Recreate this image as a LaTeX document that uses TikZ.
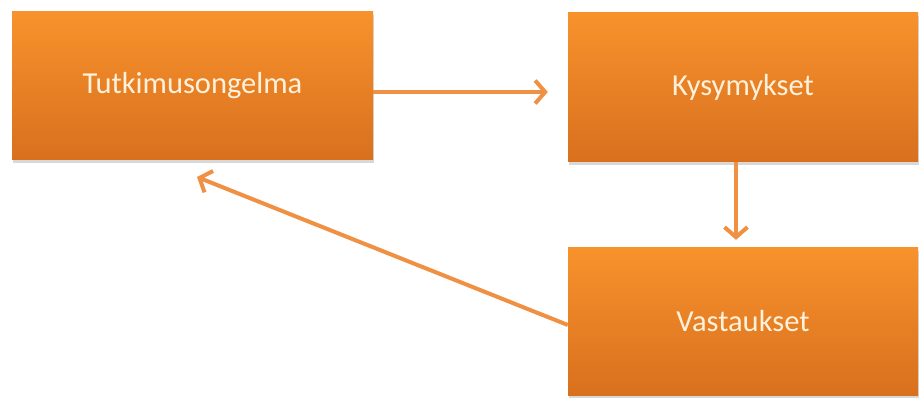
\documentclass[tikz,border=0pt]{standalone}
\usepackage{fontspec}
\setmainfont{Carlito}
\usetikzlibrary{arrows.meta,shadows,calc}
\definecolor{boxtop}{HTML}{F8922C}
\definecolor{boxbot}{HTML}{D8701E}
\definecolor{arrowc}{HTML}{EF9043}
\definecolor{textc}{HTML}{FFF1DC}
\tikzset{
  orangebox/.style={rectangle, top color=boxtop, bottom color=boxbot, draw=none,
    text=textc, font=\fontsize{30.5}{34}\selectfont, anchor=center, inner sep=0pt,
    drop shadow={shadow xshift=1pt, shadow yshift=-3pt, opacity=0.25, fill=black!60}},
  flowarrow/.style={draw=arrowc, line width=4pt, -{Straight Barb[length=10pt,width=23pt,line width=4pt]}}
}
\begin{document}
\begin{tikzpicture}[x=1pt,y=-1pt]
\useasboundingbox[fill=white] (0,0) rectangle (922,398);
\node[orangebox, minimum width=361pt, minimum height=148pt] (A) at (192.5,86) {\raisebox{-2pt}{Tutkimusongelma}};
\node[orangebox, minimum width=350pt, minimum height=149pt] (B) at (743,87.5) {\raisebox{-2pt}{Kysymykset}};
\node[orangebox, minimum width=350pt, minimum height=147pt] (C) at (743,321.5) {\raisebox{-2pt}{Vastaukset}};
\coordinate (tipA) at (197,177);
\draw[flowarrow, shorten >=20pt] ([yshift=-6pt]A.east) -- ([yshift=-4.5pt]B.west);
\draw[flowarrow, shorten >=8pt] ([xshift=-7pt]B.south) -- ([xshift=-7pt]C.north);
\draw[flowarrow] ([yshift=-3.5pt]C.west) -- (tipA);
\end{tikzpicture}
\end{document}
